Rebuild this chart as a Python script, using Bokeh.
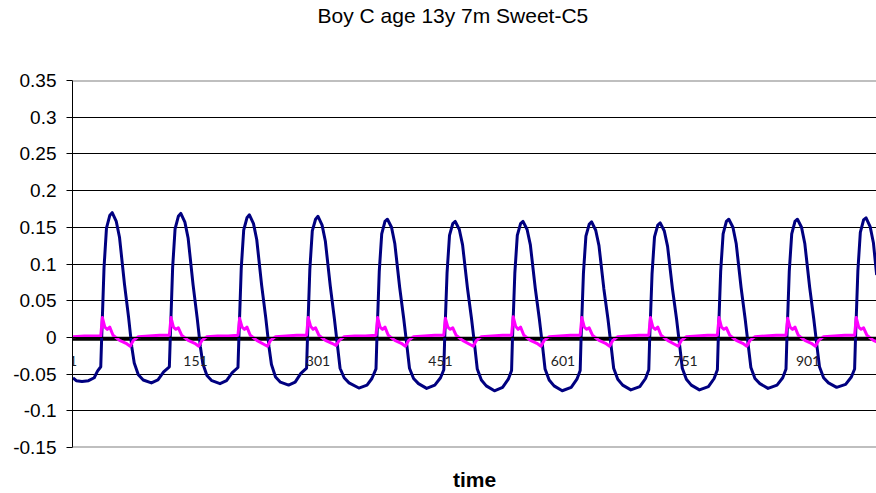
from bokeh.plotting import figure
from bokeh.models import FixedTicker, Span, LinearAxis, Range1d, Title
from bokeh.embed import file_html
from bokeh.resources import INLINE

title_text = "Boy C age 13y 7m Sweet-C5"
x_label = "time"

x_ticks = [1, 151, 301, 451, 601, 751, 901]
y_ticks = [-0.15, -0.1, -0.05, 0, 0.05, 0.1, 0.15, 0.2, 0.25, 0.3, 0.35]
y_tick_labels = ["-0.15", "-0.1", "-0.05", "0", "0.05", "0.1", "0.15", "0.2", "0.25", "0.3", "0.35"]
grid_ticks = [-0.1, -0.05, 0, 0.05, 0.1, 0.15, 0.2, 0.25, 0.3]

# navy series: vertices (sample index, value)
navy_t = [
    1, 5, 12, 20, 27, 31,
    35, 36, 39, 42, 46, 49, 54, 58, 64, 69, 73, 76, 81, 87, 97, 105, 112,
    119, 120, 123, 126, 130, 133, 138, 142, 148, 153, 157, 160, 165, 171, 181, 189, 196,
    203, 204, 207, 210, 214, 217, 222, 226, 232, 237, 241, 244, 249, 255, 265, 273, 280,
    287, 288, 291, 294, 298, 301, 306, 310, 316, 321, 325, 328, 333, 339, 351, 361, 367,
    372, 373, 376, 379, 383, 386, 391, 395, 401, 406, 410, 413, 418, 424, 434, 444, 451,
    455, 456, 459, 462, 466, 469, 474, 478, 484, 489, 493, 496, 501, 507, 517, 527, 534,
    538, 539, 542, 545, 549, 552, 557, 561, 567, 572, 576, 579, 584, 590, 600, 611, 618,
    622, 623, 626, 629, 633, 636, 641, 645, 651, 656, 660, 663, 668, 674, 684, 695, 702,
    706, 707, 710, 713, 717, 720, 725, 729, 735, 740, 744, 747, 752, 758, 768, 779, 786,
    790, 791, 794, 797, 801, 804, 809, 813, 819, 824, 828, 831, 836, 842, 852, 863, 870,
    874, 875, 878, 881, 885, 888, 893, 897, 903, 908, 912, 915, 920, 926, 936, 947, 954,
    958, 959, 962, 965, 969, 972, 977, 981, 985,
]
navy_v = [
    -0.055, -0.059, -0.060, -0.059, -0.055, -0.046,
    -0.040, -0.005, 0.095, 0.149, 0.166, 0.170, 0.158, 0.136, 0.073, 0.028, -0.013, -0.035, -0.051, -0.058, -0.062, -0.058, -0.047,
    -0.040, -0.005, 0.095, 0.148, 0.165, 0.169, 0.157, 0.135, 0.072, 0.027, -0.013, -0.036, -0.052, -0.059, -0.063, -0.059, -0.048,
    -0.041, -0.005, 0.094, 0.146, 0.163, 0.167, 0.155, 0.133, 0.071, 0.027, -0.013, -0.037, -0.054, -0.061, -0.065, -0.061, -0.049,
    -0.042, -0.005, 0.093, 0.145, 0.161, 0.165, 0.153, 0.131, 0.070, 0.026, -0.013, -0.042, -0.055, -0.062, -0.069, -0.065, -0.056,
    -0.043, -0.005, 0.090, 0.141, 0.158, 0.161, 0.150, 0.128, 0.068, 0.025, -0.013, -0.042, -0.056, -0.063, -0.0695, -0.065, -0.055,
    -0.044, -0.005, 0.088, 0.139, 0.155, 0.158, 0.147, 0.126, 0.067, 0.025, -0.013, -0.043, -0.058, -0.066, -0.0727, -0.068, -0.057,
    -0.045, -0.005, 0.088, 0.139, 0.155, 0.158, 0.147, 0.126, 0.067, 0.025, -0.013, -0.043, -0.058, -0.066, -0.0727, -0.068, -0.057,
    -0.045, -0.005, 0.088, 0.138, 0.154, 0.1575, 0.146, 0.125, 0.066, 0.025, -0.013, -0.042, -0.057, -0.065, -0.0715, -0.067, -0.056,
    -0.044, -0.005, 0.087, 0.137, 0.153, 0.156, 0.145, 0.124, 0.066, 0.025, -0.013, -0.042, -0.057, -0.065, -0.0715, -0.067, -0.056,
    -0.044, -0.005, 0.090, 0.141, 0.158, 0.161, 0.150, 0.128, 0.068, 0.025, -0.013, -0.041, -0.056, -0.063, -0.0695, -0.065, -0.055,
    -0.043, -0.005, 0.090, 0.141, 0.158, 0.161, 0.150, 0.128, 0.068, 0.025, -0.013, -0.040, -0.055, -0.062, -0.068, -0.064, -0.054,
    -0.043, -0.005, 0.091, 0.143, 0.160, 0.163, 0.151, 0.129, 0.085,
]

# magenta series
mag_t = [
    1, 15, 28,
    35, 37, 40, 43, 46, 50, 58, 66, 71, 75, 81, 94, 107,
    119, 121, 124, 127, 130, 134, 142, 150, 155, 159, 165, 178, 191,
    203, 205, 208, 211, 214, 218, 226, 234, 239, 243, 249, 262, 275,
    287, 289, 292, 295, 298, 302, 310, 318, 323, 327, 333, 346, 359,
    372, 374, 377, 380, 383, 387, 395, 403, 408, 412, 418, 431, 444,
    455, 457, 460, 463, 466, 470, 478, 486, 491, 495, 501, 514, 527,
    538, 540, 543, 546, 549, 553, 561, 569, 574, 578, 584, 597, 610,
    622, 624, 627, 630, 633, 637, 645, 653, 658, 662, 668, 681, 694,
    706, 708, 711, 714, 717, 721, 729, 737, 742, 746, 752, 765, 778,
    790, 792, 795, 798, 801, 805, 813, 821, 826, 830, 836, 849, 862,
    874, 876, 879, 882, 885, 889, 897, 905, 910, 914, 920, 933, 946,
    958, 960, 963, 966, 969, 973, 981, 985,
]
mag_v = [
    0.001, 0.002, 0.002,
    0.002, 0.027, 0.014, 0.011, 0.014, 0.003, -0.004, -0.008, -0.012, -0.004, 0.001, 0.002, 0.003,
    0.003, 0.027, 0.014, 0.011, 0.013, 0.003, -0.004, -0.008, -0.012, -0.004, 0.001, 0.002, 0.002,
    0.003, 0.026, 0.014, 0.011, 0.014, 0.003, -0.004, -0.009, -0.012, -0.004, 0.001, 0.002, 0.003,
    0.003, 0.027, 0.015, 0.011, 0.013, 0.003, -0.004, -0.008, -0.011, -0.004, 0.001, 0.002, 0.002,
    0.003, 0.027, 0.014, 0.011, 0.014, 0.003, -0.004, -0.008, -0.012, -0.004, 0.001, 0.002, 0.003,
    0.003, 0.026, 0.014, 0.011, 0.013, 0.003, -0.004, -0.009, -0.012, -0.004, 0.001, 0.002, 0.003,
    0.003, 0.028, 0.015, 0.011, 0.014, 0.003, -0.004, -0.008, -0.012, -0.004, 0.001, 0.002, 0.003,
    0.003, 0.027, 0.014, 0.011, 0.013, 0.003, -0.004, -0.008, -0.012, -0.004, 0.001, 0.002, 0.003,
    0.003, 0.027, 0.014, 0.011, 0.014, 0.003, -0.004, -0.009, -0.012, -0.004, 0.001, 0.002, 0.003,
    0.003, 0.027, 0.014, 0.011, 0.013, 0.003, -0.004, -0.008, -0.012, -0.004, 0.001, 0.002, 0.003,
    0.003, 0.026, 0.014, 0.011, 0.014, 0.003, -0.004, -0.008, -0.012, -0.004, 0.001, 0.002, 0.003,
    0.003, 0.027, 0.014, 0.011, 0.013, 0.003, -0.004, -0.006,
]

# black series (flat band at zero)
black_t = [1, 985]
black_v = [-0.002, -0.002]

p = figure(width=876, height=493, output_backend="svg", toolbar_location=None,
           x_range=Range1d(0.4, 984.8), y_range=Range1d(-0.15, 0.35),
           min_border_left=72, min_border_right=0, min_border_top=77, min_border_bottom=46)
p.outline_line_color = None
p.background_fill_color = "white"
p.border_fill_color = "white"

xax = p.below[0]
yax = p.left[0]

yax.ticker = FixedTicker(ticks=y_ticks)
yax.major_label_overrides = {t: s for t, s in zip(y_ticks, y_tick_labels)}
yax.major_tick_out = 6
yax.major_tick_in = 0
yax.minor_tick_line_color = None
yax.axis_line_color = "black"
yax.major_tick_line_color = "black"
yax.major_label_text_font = "Liberation Sans"
yax.major_label_text_font_size = "19px"
yax.major_label_text_color = "black"
yax.major_label_standoff = 10

xax.fixed_location = 0
xax.ticker = FixedTicker(ticks=x_ticks)
xax.major_label_overrides = {t: str(t) for t in x_ticks}
xax.major_tick_out = 0
xax.major_tick_in = 0
xax.minor_tick_line_color = None
xax.axis_line_color = "black"
xax.major_label_text_font = "Lato"
xax.major_label_text_font_size = "14px"
xax.major_label_text_color = "#222222"
xax.major_label_standoff = 19

# spacer axis above the plot area (blank 1px label + standoff), pushes the title up
spacer = LinearAxis(ticker=FixedTicker(ticks=[]), axis_line_color=None,
                    major_tick_line_color=None, minor_tick_line_color=None,
                    major_tick_out=0, major_tick_in=0, minor_tick_out=0,
                    major_label_text_font_size="0px", major_label_standoff=0,
                    axis_label="\u00a0", axis_label_text_font_size="1px",
                    axis_label_standoff=45)
p.add_layout(spacer, "above")

chart_title = Title(text=title_text, align="left", offset=245, vertical_align="top",
                    standoff=6, text_font="Liberation Sans", text_font_size="21px",
                    text_font_style="normal", text_color="black")
p.add_layout(chart_title, "above")

lab_ax = LinearAxis(ticker=FixedTicker(ticks=[]), axis_label=x_label,
                    axis_line_color=None, major_tick_line_color=None,
                    minor_tick_line_color=None, major_label_text_font_size="0px",
                    axis_label_text_font="Liberation Sans",
                    axis_label_text_font_size="21px",
                    axis_label_text_font_style="bold",
                    axis_label_text_color="black",
                    axis_label_standoff=20)
p.add_layout(lab_ax, "below")

p.xgrid.visible = False
p.ygrid.ticker = FixedTicker(ticks=grid_ticks)
p.ygrid.grid_line_color = "black"
p.ygrid.grid_line_width = 1

p.add_layout(Span(location=0.35, dimension="width", line_color="#808080", line_width=2))
p.add_layout(Span(location=-0.15, dimension="width", line_color="#808080", line_width=2))

p.line(black_t, black_v, line_color="black", line_width=4)
p.line(navy_t, navy_v, line_color="#000080", line_width=3, line_join="round")
p.line(mag_t, mag_v, line_color="#FF00FF", line_width=3, line_join="round")

open("out.html", "w").write(file_html(p, INLINE))
